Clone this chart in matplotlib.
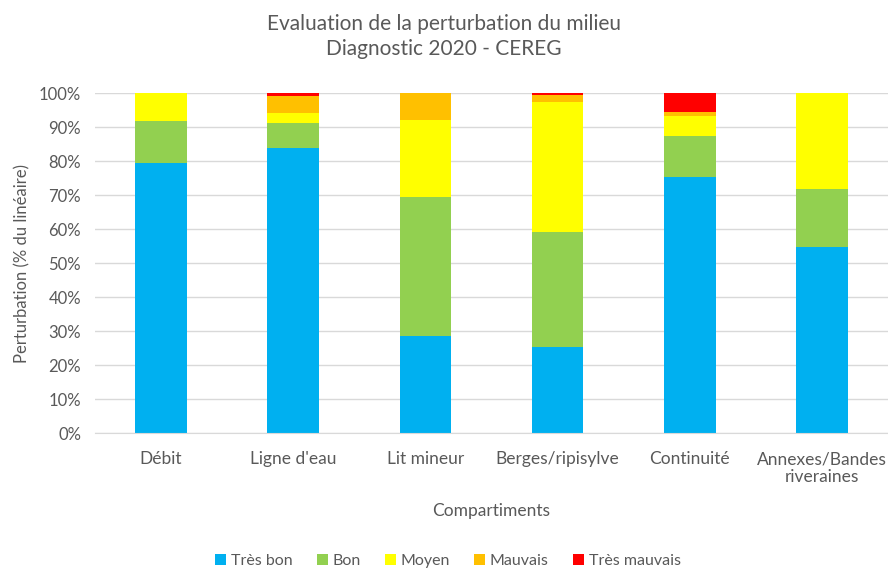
import matplotlib.pyplot as plt
import numpy as np
from matplotlib.ticker import PercentFormatter

categories = ['Débit', "Ligne d'eau", 'Lit mineur', 'Berges/ripisylve', 'Continuité',
              'Annexes/Bandes\nriveraines']
tres_bon = [79.4, 83.8, 28.5, 25.3, 75.3, 54.7]
bon = [12.4, 7.4, 40.9, 33.8, 12.1, 17.1]
moyen = [8.2, 2.9, 22.7, 38.3, 5.9, 28.2]
mauvais = [0.0, 5.0, 7.9, 2.2, 1.2, 0.0]
tres_mauvais = [0.0, 0.9, 0.0, 0.4, 5.5, 0.0]

series = [('Très bon', tres_bon, '#00b0f0'),
          ('Bon', bon, '#92d050'),
          ('Moyen', moyen, '#ffff00'),
          ('Mauvais', mauvais, '#ffc000'),
          ('Très mauvais', tres_mauvais, '#ff0000')]

plt.rcParams['font.family'] = ['Lato', 'DejaVu Sans']
grey = '#595959'

fig = plt.figure(figsize=(8.88, 5.72), dpi=100)
ax = fig.add_axes([0.107, 0.243, 0.893, 0.594])

x = np.arange(len(categories))
bottom = np.zeros(len(categories))
for name, vals, color in series:
    ax.bar(x, vals, 0.39, bottom=bottom, color=color, label=name, zorder=3)
    bottom += np.array(vals)

ax.set_xlim(-0.5, len(categories) - 0.5)
ax.set_ylim(0, 100)
ax.set_yticks(np.arange(0, 101, 10))
ax.yaxis.set_major_formatter(PercentFormatter(decimals=0))
ax.set_xticks(x)
ax.set_xticklabels(categories, fontsize=12.5, color=grey, linespacing=1.15)
ax.tick_params(axis='y', labelsize=12, colors=grey, length=0, pad=10)
ax.tick_params(axis='x', length=0, pad=13)
ax.grid(axis='y', color='#d9d9d9', linewidth=1, zorder=0)
for s in ['top', 'right', 'left']:
    ax.spines[s].set_visible(False)
ax.spines['bottom'].set_color('#d9d9d9')
ax.spines['bottom'].set_zorder(4)

ax.set_xlabel('Compartiments', fontsize=12.5, color=grey, labelpad=13)
ax.set_ylabel('Perturbation (% du linéaire)', fontsize=12, color=grey, labelpad=6)
fig.text(0.5, 0.975, 'Evaluation de la perturbation du milieu\nDiagnostic 2020 - CEREG',
         ha='center', va='top', fontsize=15, color=grey, linespacing=1.3)

ax.legend(loc='lower center', bbox_to_anchor=(0.445, -0.44), ncol=5, frameon=False,
          fontsize=11.5, labelcolor=grey, handlelength=0.7, handleheight=0.7,
          handletextpad=0.3, columnspacing=1.5)

fig.savefig('out.png', dpi=100)
